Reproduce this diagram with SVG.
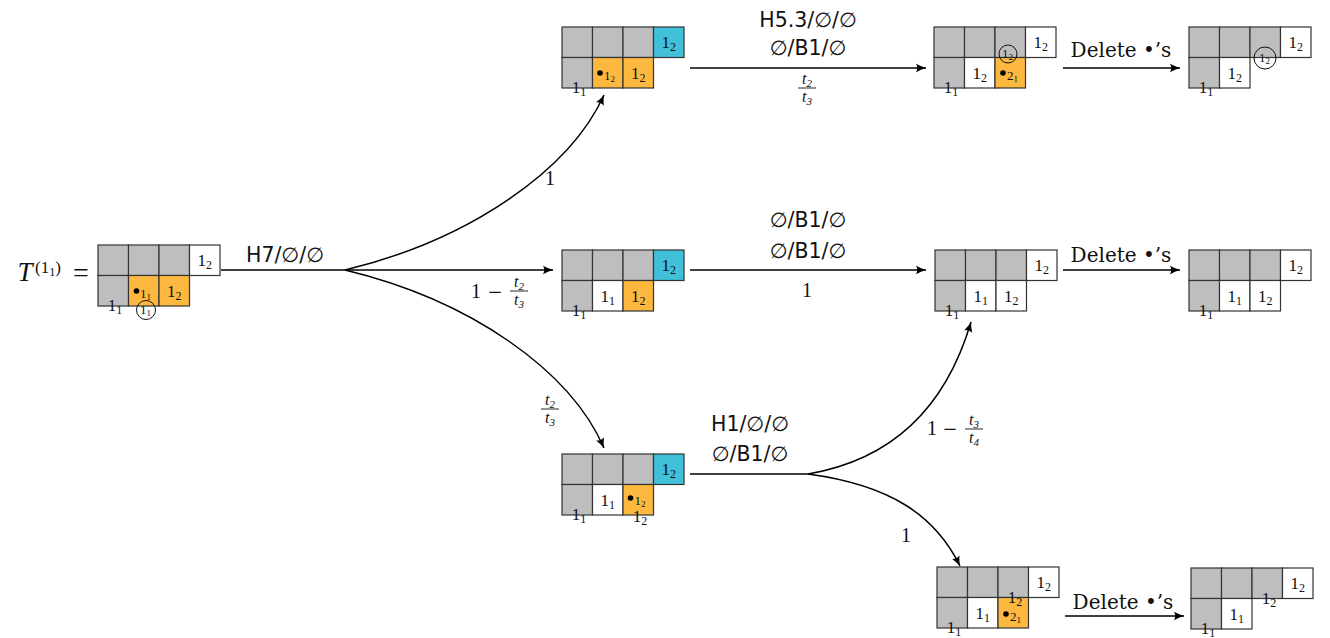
<svg xmlns="http://www.w3.org/2000/svg" width="1330" height="638" viewBox="0 0 1330 638">
<defs>
<style>
.g{fill:#bebebe;stroke:#333;stroke-width:1.2}
.o{fill:#fdb93f;stroke:#333;stroke-width:1.2}
.b{fill:#40c0d9;stroke:#333;stroke-width:1.2}
.w{fill:#fff;stroke:#333;stroke-width:1.2}
.n{font-family:"Liberation Serif",serif;font-size:17px;fill:#111;text-anchor:middle}
.sm{font-family:"Liberation Serif",serif;font-size:13px;fill:#111}
.sb{font-size:12px}
.ssb{font-size:9px}
.fsb{font-size:11px}
.cir{fill:none;stroke:#111;stroke-width:1}
.dot{fill:#000}
.edge{fill:none;stroke:#000;stroke-width:1.5}
.arr{marker-end:url(#ah)}
.lab{font-family:"DejaVu Sans","Liberation Sans",sans-serif;font-size:20.5px;fill:#111;text-anchor:middle}
.del{font-family:"DejaVu Serif","Liberation Serif",serif;font-size:20px;fill:#111;text-anchor:middle}
.m{font-family:"Liberation Serif",serif;font-size:20px;fill:#111;text-anchor:middle}
.mn{font-family:"DejaVu Serif",serif;font-size:18px;fill:#111;text-anchor:middle}
.mi{font-family:"Liberation Serif",serif;font-style:italic;font-size:16px;fill:#111;text-anchor:middle}
.bar{stroke:#111;stroke-width:0.9}
</style>
<marker id="ah" markerWidth="12" markerHeight="10" refX="10" refY="5" orient="auto" markerUnits="userSpaceOnUse" viewBox="0 0 12 10">
<path d="M0,0.8 Q5,3.5 10,5 Q5,6.5 0,9.2 Q2.5,5 0,0.8 z" fill="#000"/>
</marker>
</defs>

<!-- T^(1_1) = -->
<g id="Tlabel">
<text x="25" y="281" font-family="Liberation Serif,serif" font-style="italic" font-size="27" fill="#111" text-anchor="middle">T</text>
<text x="35" y="273" font-family="Liberation Serif,serif" font-size="17" fill="#111">(1<tspan font-size="12" dy="3">1</tspan><tspan dy="-3">)</tspan></text>
<text x="81" y="282" font-family="Liberation Serif,serif" font-size="28" fill="#111" text-anchor="middle">=</text>
</g>

<g id="T0" transform="translate(98,245)">
<rect class="g" x="0" y="0" width="30.5" height="30.5"/>
<rect class="g" x="30.5" y="0" width="30.5" height="30.5"/>
<rect class="g" x="61" y="0" width="30.5" height="30.5"/>
<rect class="w" x="91.5" y="0" width="30.5" height="30.5"/>
<rect class="g" x="0" y="30.5" width="30.5" height="30.5"/>
<rect class="o" x="30.5" y="30.5" width="30.5" height="30.5"/>
<rect class="o" x="61" y="30.5" width="30.5" height="30.5"/>
<text class="n" x="106.75" y="21">1<tspan class="sb" dy="3">2</tspan></text>
<circle class="dot" cx="38.5" cy="46" r="2.8"/>
<text class="sm" x="42" y="53">1<tspan class="ssb" dy="2">1</tspan></text>
<text class="n" x="76.25" y="51.5">1<tspan class="sb" dy="3">2</tspan></text>
<text class="n" x="17" y="66">1<tspan class="sb" dy="3">1</tspan></text>
<circle class="cir" cx="48" cy="65" r="9.5"/>
<text class="sm" x="47.5" y="69" text-anchor="middle" font-size="12">1<tspan class="ssb" dy="2">1</tspan></text>
</g>

<g id="A" transform="translate(562,27)">
<rect class="g" x="0" y="0" width="30.5" height="30.5"/>
<rect class="g" x="30.5" y="0" width="30.5" height="30.5"/>
<rect class="g" x="61" y="0" width="30.5" height="30.5"/>
<rect class="b" x="91.5" y="0" width="30.5" height="30.5"/>
<rect class="g" x="0" y="30.5" width="30.5" height="30.5"/>
<rect class="o" x="30.5" y="30.5" width="30.5" height="30.5"/>
<rect class="o" x="61" y="30.5" width="30.5" height="30.5"/>
<text class="n" x="106.75" y="21">1<tspan class="sb" dy="3">2</tspan></text>
<circle class="dot" cx="38" cy="46" r="2.8"/>
<text class="sm" x="42" y="53">1<tspan class="ssb" dy="2">2</tspan></text>
<text class="n" x="76.25" y="51.5">1<tspan class="sb" dy="3">2</tspan></text>
<text class="n" x="17" y="66">1<tspan class="sb" dy="3">1</tspan></text>
</g>

<g id="B" transform="translate(934,27)">
<rect class="g" x="0" y="0" width="30.5" height="30.5"/>
<rect class="g" x="30.5" y="0" width="30.5" height="30.5"/>
<rect class="g" x="61" y="0" width="30.5" height="30.5"/>
<rect class="w" x="91.5" y="0" width="30.5" height="30.5"/>
<rect class="g" x="0" y="30.5" width="30.5" height="30.5"/>
<rect class="w" x="30.5" y="30.5" width="30.5" height="30.5"/>
<rect class="o" x="61" y="30.5" width="30.5" height="30.5"/>
<text class="n" x="106.75" y="21">1<tspan class="sb" dy="3">2</tspan></text>
<text class="n" x="45.75" y="51.5">1<tspan class="sb" dy="3">2</tspan></text>
<circle class="cir" cx="74" cy="27" r="9"/>
<text class="sm" x="73.5" y="31" text-anchor="middle" font-size="12">1<tspan class="ssb" dy="2">2</tspan></text>
<circle class="dot" cx="69" cy="46" r="2.8"/>
<text class="sm" x="73" y="53">2<tspan class="ssb" dy="2">1</tspan></text>
<text class="n" x="17" y="66">1<tspan class="sb" dy="3">1</tspan></text>
</g>

<g id="C" transform="translate(1189,27)">
<rect class="g" x="0" y="0" width="30.5" height="30.5"/>
<rect class="g" x="30.5" y="0" width="30.5" height="30.5"/>
<rect class="g" x="61" y="0" width="30.5" height="30.5"/>
<rect class="w" x="91.5" y="0" width="30.5" height="30.5"/>
<rect class="g" x="0" y="30.5" width="30.5" height="30.5"/>
<rect class="w" x="30.5" y="30.5" width="30.5" height="30.5"/>
<text class="n" x="106.75" y="21">1<tspan class="sb" dy="3">2</tspan></text>
<text class="n" x="45.75" y="51.5">1<tspan class="sb" dy="3">2</tspan></text>
<circle class="cir" cx="76" cy="31" r="11"/>
<text class="sm" x="75.5" y="35" text-anchor="middle" font-size="13">1<tspan class="ssb" dy="2">2</tspan></text>
<text class="n" x="17" y="66">1<tspan class="sb" dy="3">1</tspan></text>
</g>

<g id="D" transform="translate(562,250)">
<rect class="g" x="0" y="0" width="30.5" height="30.5"/>
<rect class="g" x="30.5" y="0" width="30.5" height="30.5"/>
<rect class="g" x="61" y="0" width="30.5" height="30.5"/>
<rect class="b" x="91.5" y="0" width="30.5" height="30.5"/>
<rect class="g" x="0" y="30.5" width="30.5" height="30.5"/>
<rect class="w" x="30.5" y="30.5" width="30.5" height="30.5"/>
<rect class="o" x="61" y="30.5" width="30.5" height="30.5"/>
<text class="n" x="106.75" y="21">1<tspan class="sb" dy="3">2</tspan></text>
<text class="n" x="45.75" y="51.5">1<tspan class="sb" dy="3">1</tspan></text>
<text class="n" x="76.25" y="51.5">1<tspan class="sb" dy="3">2</tspan></text>
<text class="n" x="17" y="66">1<tspan class="sb" dy="3">1</tspan></text>
</g>

<g id="E" transform="translate(935,250)">
<rect class="g" x="0" y="0" width="30.5" height="30.5"/>
<rect class="g" x="30.5" y="0" width="30.5" height="30.5"/>
<rect class="g" x="61" y="0" width="30.5" height="30.5"/>
<rect class="w" x="91.5" y="0" width="30.5" height="30.5"/>
<rect class="g" x="0" y="30.5" width="30.5" height="30.5"/>
<rect class="w" x="30.5" y="30.5" width="30.5" height="30.5"/>
<rect class="w" x="61" y="30.5" width="30.5" height="30.5"/>
<text class="n" x="106.75" y="21">1<tspan class="sb" dy="3">2</tspan></text>
<text class="n" x="45.75" y="51.5">1<tspan class="sb" dy="3">1</tspan></text>
<text class="n" x="76.25" y="51.5">1<tspan class="sb" dy="3">2</tspan></text>
<text class="n" x="17" y="66">1<tspan class="sb" dy="3">1</tspan></text>
</g>

<g id="F" transform="translate(1189,250)">
<rect class="g" x="0" y="0" width="30.5" height="30.5"/>
<rect class="g" x="30.5" y="0" width="30.5" height="30.5"/>
<rect class="g" x="61" y="0" width="30.5" height="30.5"/>
<rect class="w" x="91.5" y="0" width="30.5" height="30.5"/>
<rect class="g" x="0" y="30.5" width="30.5" height="30.5"/>
<rect class="w" x="30.5" y="30.5" width="30.5" height="30.5"/>
<rect class="w" x="61" y="30.5" width="30.5" height="30.5"/>
<text class="n" x="106.75" y="21">1<tspan class="sb" dy="3">2</tspan></text>
<text class="n" x="45.75" y="51.5">1<tspan class="sb" dy="3">1</tspan></text>
<text class="n" x="76.25" y="51.5">1<tspan class="sb" dy="3">2</tspan></text>
<text class="n" x="17" y="66">1<tspan class="sb" dy="3">1</tspan></text>
</g>

<g id="G" transform="translate(562,454)">
<rect class="g" x="0" y="0" width="30.5" height="30.5"/>
<rect class="g" x="30.5" y="0" width="30.5" height="30.5"/>
<rect class="g" x="61" y="0" width="30.5" height="30.5"/>
<rect class="b" x="91.5" y="0" width="30.5" height="30.5"/>
<rect class="g" x="0" y="30.5" width="30.5" height="30.5"/>
<rect class="w" x="30.5" y="30.5" width="30.5" height="30.5"/>
<rect class="o" x="61" y="30.5" width="30.5" height="30.5"/>
<text class="n" x="106.75" y="21">1<tspan class="sb" dy="3">2</tspan></text>
<text class="n" x="45.75" y="51.5">1<tspan class="sb" dy="3">1</tspan></text>
<circle class="dot" cx="68.5" cy="44" r="2.8"/>
<text class="sm" x="72.5" y="51">1<tspan class="ssb" dy="2">2</tspan></text>
<text class="n" x="17" y="66">1<tspan class="sb" dy="3">1</tspan></text>
<text class="n" x="78" y="68">1<tspan class="sb" dy="3">2</tspan></text>
</g>

<g id="H" transform="translate(937,567)">
<rect class="g" x="0" y="0" width="30.5" height="30.5"/>
<rect class="g" x="30.5" y="0" width="30.5" height="30.5"/>
<rect class="g" x="61" y="0" width="30.5" height="30.5"/>
<rect class="w" x="91.5" y="0" width="30.5" height="30.5"/>
<rect class="g" x="0" y="30.5" width="30.5" height="30.5"/>
<rect class="w" x="30.5" y="30.5" width="30.5" height="30.5"/>
<rect class="o" x="61" y="30.5" width="30.5" height="30.5"/>
<text class="n" x="106.75" y="21">1<tspan class="sb" dy="3">2</tspan></text>
<text class="n" x="45.75" y="51.5">1<tspan class="sb" dy="3">1</tspan></text>
<text class="n" x="78" y="36">1<tspan class="sb" dy="3">2</tspan></text>
<circle class="dot" cx="69" cy="47" r="2.8"/>
<text class="sm" x="73" y="54">2<tspan class="ssb" dy="2">1</tspan></text>
<text class="n" x="17" y="66">1<tspan class="sb" dy="3">1</tspan></text>
</g>

<g id="I" transform="translate(1191,568)">
<rect class="g" x="0" y="0" width="30.5" height="30.5"/>
<rect class="g" x="30.5" y="0" width="30.5" height="30.5"/>
<rect class="g" x="61" y="0" width="30.5" height="30.5"/>
<rect class="w" x="91.5" y="0" width="30.5" height="30.5"/>
<rect class="g" x="0" y="30.5" width="30.5" height="30.5"/>
<rect class="w" x="30.5" y="30.5" width="30.5" height="30.5"/>
<text class="n" x="106.75" y="21">1<tspan class="sb" dy="3">2</tspan></text>
<text class="n" x="45.75" y="51.5">1<tspan class="sb" dy="3">1</tspan></text>
<text class="n" x="78" y="36">1<tspan class="sb" dy="3">2</tspan></text>
<text class="n" x="17" y="66">1<tspan class="sb" dy="3">1</tspan></text>
</g>

<g id="connectors">
<path class="edge" d="M221,270 L345,270"/>
<path class="edge arr" d="M345,270 C470,240 570,170 604,95"/>
<path class="edge arr" d="M345,270 L553,270"/>
<path class="edge arr" d="M345,270 C470,300 570,370 604,448"/>
<path class="edge arr" d="M690,68 L926,68"/>
<path class="edge arr" d="M1063,68 L1180,68"/>
<path class="edge arr" d="M690,270 L926,270"/>
<path class="edge arr" d="M1063,270 L1180,270"/>
<path class="edge" d="M690,474 L808,474"/>
<path class="edge arr" d="M808,474 C890,460 945,410 971,322"/>
<path class="edge arr" d="M808,474 C890,485 935,515 960,566"/>
<path class="edge arr" d="M1065,616 L1184,616"/>
</g>

<g id="labels">
<text class="lab" x="285" y="262">H7/∅/∅</text>
<text class="m" x="550" y="185">1</text>
<text class="m" x="476" y="298">1</text>
<text class="mn" x="495" y="298">−</text>
<text class="mi" x="519" y="287">t<tspan class="fsb" dy="3">2</tspan></text>
<line class="bar" x1="510" y1="291" x2="528" y2="291"/>
<text class="mi" x="519" y="305">t<tspan class="fsb" dy="3">3</tspan></text>
<text class="mi" x="550" y="405">t<tspan class="fsb" dy="3">2</tspan></text>
<line class="bar" x1="541" y1="409" x2="559" y2="409"/>
<text class="mi" x="550" y="423">t<tspan class="fsb" dy="3">3</tspan></text>

<text class="lab" x="808" y="27">H5.3/∅/∅</text>
<text class="lab" x="808" y="55">∅/B1/∅</text>
<text class="mi" x="807" y="84">t<tspan class="fsb" dy="3">2</tspan></text>
<line class="bar" x1="798" y1="88" x2="816" y2="88"/>
<text class="mi" x="807" y="102">t<tspan class="fsb" dy="3">3</tspan></text>
<text class="del" x="1121" y="57">Delete •’s</text>

<text class="lab" x="808" y="227">∅/B1/∅</text>
<text class="lab" x="808" y="258">∅/B1/∅</text>
<text class="m" x="807" y="297">1</text>
<text class="del" x="1121" y="262">Delete •’s</text>

<text class="lab" x="750" y="431">H1/∅/∅</text>
<text class="lab" x="750" y="461">∅/B1/∅</text>
<text class="m" x="932" y="435">1</text>
<text class="mn" x="950" y="435">−</text>
<text class="mi" x="974" y="425">t<tspan class="fsb" dy="3">3</tspan></text>
<line class="bar" x1="965" y1="429" x2="983" y2="429"/>
<text class="mi" x="974" y="443">t<tspan class="fsb" dy="3">4</tspan></text>
<text class="m" x="906" y="542">1</text>
<text class="del" x="1123" y="609">Delete •’s</text>
</g>
</svg>
